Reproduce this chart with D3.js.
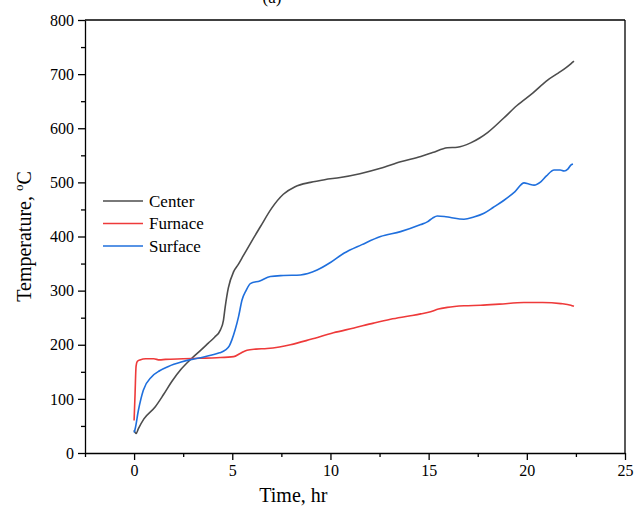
<!DOCTYPE html>
<html>
<head>
<meta charset="utf-8">
<script src="https://cdn.jsdelivr.net/npm/d3@7"></script>
<style>
  body { margin: 0; background: #fff; }
  text { font-family: "Liberation Serif", "Times New Roman", serif; fill: #000; }
</style>
</head>
<body>
<div id="chart"></div>
<script>
var svgWidth = 639;
var svgHeight = 508;

var margin = { top: 20, right: 14, bottom: 55, left: 85 };
var width = svgWidth - margin.left - margin.right;
var height = svgHeight - margin.top - margin.bottom;

// Series: time (hr) and temperature (°C)
var centerTime = [0, 0.1, 0.22, 0.5, 1.07, 1.5, 1.92, 2.4, 2.94, 3.4, 3.78, 4.1, 4.39, 4.55, 4.64, 4.8, 5.07, 5.3, 5.57, 6.0, 6.43, 7.0, 7.6, 8.2, 8.98, 9.7, 10.5, 11.5, 12.55, 13.57, 14.6, 15.2, 15.95, 16.46, 17.14, 17.6, 18.0, 18.8, 19.5, 20.3, 21.06, 21.6, 22.0, 22.24, 22.4];
var centerTemp = [42, 36, 45, 63, 85, 108, 132, 155, 175, 190, 203, 214, 227, 245, 270, 305, 335, 348, 365, 392, 418, 452, 478, 492, 500, 505, 509, 516, 526, 538, 548, 555, 564, 565, 573, 582, 592, 618, 642, 665, 689, 702, 712, 719, 724];

var furnaceTime = [0, 0.05, 0.1, 0.16, 0.3, 0.6, 1.0, 1.3, 1.6, 2.5, 3.37, 4.2, 5.07, 5.4, 5.75, 6.2, 6.77, 7.4, 7.96, 9.0, 10.15, 11.2, 12.2, 13.06, 14.0, 14.6, 15.1, 15.5, 15.95, 16.8, 17.65, 18.6, 19.85, 20.8, 21.73, 22.24, 22.4];
var furnaceTemp = [60, 110, 160, 169, 172, 174, 174, 172, 173, 174, 175, 176, 178, 184, 190, 192, 193, 196, 200, 210, 222, 231, 240, 247, 253, 257, 261, 266, 269, 272, 273, 275, 278, 278, 276, 273, 271];

var surfaceTime = [0, 0.05, 0.22, 0.47, 0.9, 1.3, 1.75, 2.4, 2.94, 3.5, 3.96, 4.35, 4.64, 4.85, 4.98, 5.15, 5.32, 5.5, 5.7, 5.92, 6.4, 6.94, 7.6, 8.47, 9.32, 10.0, 10.68, 11.6, 12.55, 13.57, 14.6, 14.93, 15.2, 15.44, 15.8, 16.12, 16.8, 17.3, 17.82, 18.3, 18.84, 19.4, 19.86, 20.1, 20.37, 20.71, 21.0, 21.39, 21.7, 21.9, 22.1, 22.24, 22.35];
var surfaceTemp = [38, 44, 79, 116, 141, 152, 160, 168, 173, 177, 181, 185, 190, 198, 209, 228, 252, 283, 300, 313, 318, 326, 328, 329, 338, 352, 369, 385, 400, 409, 422, 427, 434, 438, 437, 435, 432, 436, 443, 454, 467, 483, 499, 497, 495, 501, 512, 523, 523, 521, 525, 532, 534];

var xTicks = [0, 5, 10, 15, 20, 25];
var yTicks = [0, 100, 200, 300, 400, 500, 600, 700, 800];

var seriesNames = ["Center", "Furnace", "Surface"];
var seriesColors = ["#4d4d4d", "#ee3a3a", "#1f6fdd"];

function toPoints(ts, vs) {
  return ts.map(function(t, i) { return { t: t, v: vs[i] }; });
}
var series = [
  toPoints(centerTime, centerTemp),
  toPoints(furnaceTime, furnaceTemp),
  toPoints(surfaceTime, surfaceTemp)
];

var svg = d3.select('#chart')
  .append('svg')
  .attr('width', svgWidth)
  .attr('height', svgHeight);

// cut-off panel title at the top edge
svg.append('text')
  .attr('x', 272)
  .attr('y', 3)
  .attr('text-anchor', 'middle')
  .attr('font-size', 17)
  .text('(a)');

var chartGroup = svg.append('g')
  .attr('transform', `translate(${margin.left}, ${margin.top})`);

var xScale = d3.scaleLinear().domain([-2.5, 25]).range([0, width]);
var yScale = d3.scaleLinear().domain([0, 800]).range([height, 0]);

// minor ticks
var xMinor = d3.range(-2.5, 25.01, 2.5).filter(d => xTicks.indexOf(d) < 0);
var yMinor = d3.range(50, 800, 100);

chartGroup.append('g')
  .attr('transform', `translate(0, ${height})`)
  .call(d3.axisBottom(xScale).tickValues(xMinor).tickSize(4).tickFormat(''))
  .call(g => g.select('.domain').remove())
  .selectAll('line').attr('stroke-width', 1.3);

chartGroup.append('g')
  .call(d3.axisLeft(yScale).tickValues(yMinor).tickSize(4).tickFormat(''))
  .call(g => g.select('.domain').remove())
  .selectAll('line').attr('stroke-width', 1.3);

// major axes
var bottomAxis = d3.axisBottom(xScale).tickValues(xTicks).tickSize(7).tickSizeOuter(0).tickPadding(5);
var leftAxis = d3.axisLeft(yScale).tickValues(yTicks).tickSize(7).tickSizeOuter(0).tickPadding(4);

var xAxisG = chartGroup.append('g')
  .attr('transform', `translate(0, ${height})`)
  .call(bottomAxis);
xAxisG.selectAll('text').attr('font-size', 16).attr('font-family', '"Liberation Serif", serif');

var yAxisG = chartGroup.append('g')
  .call(leftAxis);
yAxisG.selectAll('text').attr('font-size', 16).attr('font-family', '"Liberation Serif", serif');

chartGroup.selectAll('.domain, .tick line').attr('stroke', '#000').attr('stroke-width', 1.3);

// top and right frame
chartGroup.append('line')
  .attr('x1', 0).attr('x2', width).attr('y1', 0).attr('y2', 0)
  .attr('stroke', '#000').attr('stroke-width', 1.3);
chartGroup.append('line')
  .attr('x1', width).attr('x2', width).attr('y1', 0).attr('y2', height)
  .attr('stroke', '#000').attr('stroke-width', 1.3);

// lines
var line = d3.line()
  .x(d => xScale(d.t))
  .y(d => yScale(d.v))
  .curve(d3.curveMonotoneX);

chartGroup.selectAll('.series')
  .data(series)
  .enter()
  .append('path')
  .attr('class', 'series')
  .attr('d', line)
  .attr('fill', 'none')
  .attr('stroke', (d, i) => seriesColors[i])
  .attr('stroke-width', 1.6);

// legend
var legend = svg.append('g').attr('transform', 'translate(103, 201)');
seriesNames.forEach(function(name, i) {
  var row = legend.append('g').attr('transform', `translate(0, ${i * 22.5})`);
  row.append('line')
    .attr('x1', 0).attr('x2', 40)
    .attr('stroke', seriesColors[i])
    .attr('stroke-width', 1.6);
  row.append('text')
    .attr('x', 46)
    .attr('y', 5.5)
    .attr('font-size', 17)
    .text(name);
});

// axis labels
svg.append('text')
  .attr('x', margin.left + xScale(7.5) + 12)
  .attr('y', 502)
  .attr('text-anchor', 'middle')
  .attr('font-size', 20)
  .text('Time, hr');

var yLabel = svg.append('text')
  .attr('transform', `translate(31, ${margin.top + height / 2}) rotate(-90)`)
  .attr('text-anchor', 'middle')
  .attr('font-size', 20);
yLabel.append('tspan').text('Temperature, ');
yLabel.append('tspan').attr('font-size', 13).attr('dy', -8).text('o');
yLabel.append('tspan').attr('dy', 8).text('C');
</script>
</body>
</html>
